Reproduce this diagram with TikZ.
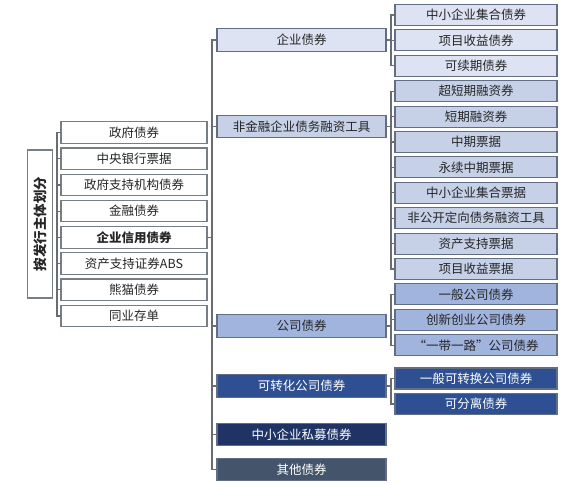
\documentclass[tikz,border=0pt]{standalone}
\usepackage{fontspec}
\setmainfont{Noto Sans CJK SC}
\usetikzlibrary{positioning,calc}
\definecolor{ink}{RGB}{38,38,38}
\definecolor{grey}{RGB}{120,126,136}
\definecolor{edge}{RGB}{98,110,132}
\definecolor{wire}{RGB}{105,108,115}
\definecolor{pale}{RGB}{221,227,242}
\definecolor{soft}{RGB}{198,209,231}
\definecolor{mid}{RGB}{160,180,221}
\definecolor{deep}{RGB}{46,80,146}
\definecolor{navy}{RGB}{31,52,100}
\definecolor{slate}{RGB}{68,84,106}
\tikzset{
  box/.style={draw=edge,line width=1.1pt,minimum height=21pt,inner sep=0pt,text=ink,font=\fontsize{12.5}{14}\selectfont},
  lbox/.style={box,fill=white,draw=grey,minimum width=146pt,minimum height=21.5pt},
  mbox/.style={box,minimum width=169pt,minimum height=22.5pt},
  rbox/.style={box,minimum width=162pt},
  rootbox/.style={box,fill=white,draw=grey,rotate=90,minimum width=148pt,minimum height=25pt,font=\bfseries\fontsize{13.5}{15}\selectfont},
  tone1/.style={fill=pale},tone2/.style={fill=soft},tone3/.style={fill=mid},
  tone4/.style={fill=deep,text=white},tone5/.style={fill=navy,text=white},tone6/.style={fill=slate,text=white},
  conn/.style={draw=wire,line width=1.2pt,line cap=rect}
}
\begin{document}
\begin{tikzpicture}[x=1pt,y=-1pt]
  \useasboundingbox (0,0) rectangle (576,483);
  \coordinate (lbr) at (57,0);
  \coordinate (trunk) at (212,0);
  \coordinate (rbr) at (391,0);

  \node[rootbox] (root) at (40,224) {按发行主体划分};

  % issuer types
  \foreach \t [count=\i] in {政府债券,中央银行票据,政府支持机构债券,金融债券,{\bfseries 企业信用债券},资产支持证券ABS,熊猫债券,同业存单}{
    \node[lbox] (l\i) at (134,{132.5+26.2*(\i-1)}) {\t};
  }

  % corporate credit bonds
  \foreach \t/\c/\y [count=\i] in {企业债券/tone1/40,非金融企业债务融资工具/tone2/126.5,公司债券/tone3/326,可转化公司债券/tone4/386,中小企业私募债券/tone5/434.5,其他债券/tone6/469.5}{
    \node[mbox,\c] (m\i) at (301.5,\y) {\t};
  }

  \foreach \t/\c/\y [count=\i] in {中小企业集合债券/tone1/15,项目收益债券/tone1/40.4,可续期债券/tone1/65.8,
      超短期融资券/tone2/91.2,短期融资券/tone2/116.6,中期票据/tone2/142,永续中期票据/tone2/167.4,中小企业集合票据/tone2/192.8,非公开定向债务融资工具/tone2/218.2,资产支持票据/tone2/243.6,项目收益票据/tone2/269,
      一般公司债券/tone3/294.4,创新创业公司债券/tone3/319.8,“一带一路”公司债券/tone3/345.2,
      一般可转换公司债券/tone4/378.5,可分离债券/tone4/404}{
    \node[rbox,\c] (r\i) at (476,\y) {\t};
  }

  \foreach \i in {1,...,8}{\draw[conn] (l\i.west) -- (l\i.west -| lbr);}
  \draw[conn] (l1.west -| lbr) -- (l8.west -| lbr);

  \draw[conn] (l5.east) -- (l5.east -| trunk);
  \foreach \i in {1,...,6}{\draw[conn] (m\i.west) -- (m\i.west -| trunk);}
  \draw[conn] (m1.west -| trunk) -- (m6.west -| trunk);

  \foreach \p/\a/\b in {1/1/3,2/4/11,3/12/14,4/15/16}{
    \draw[conn] (m\p.east) -- (m\p.east -| rbr);
    \draw[conn] (r\a.west -| rbr) -- (r\b.west -| rbr);
    \foreach \k in {\a,...,\b}{\draw[conn] (r\k.west) -- (r\k.west -| rbr);}
  }
\end{tikzpicture}
\end{document}
